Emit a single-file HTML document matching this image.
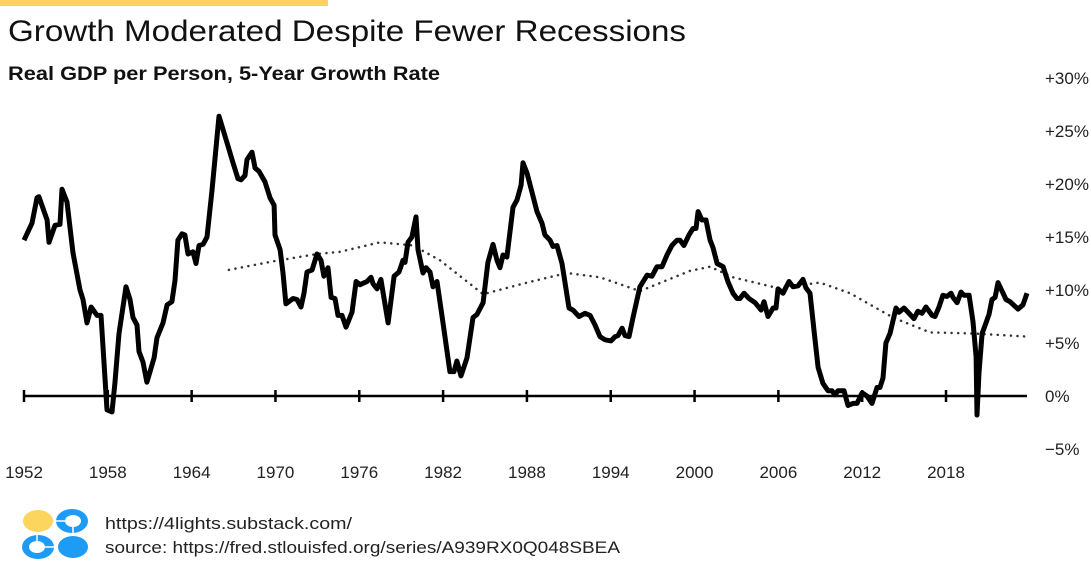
<!DOCTYPE html>
<html><head><meta charset="utf-8"><style>
html,body{margin:0;padding:0;background:#fff;}
body{width:1091px;height:574px;overflow:hidden;position:relative;font-family:"Liberation Sans",sans-serif;}
</style></head><body>
<svg id="chart" width="1091" height="574" viewBox="0 0 1091 574" xmlns="http://www.w3.org/2000/svg" style="position:absolute;left:0;top:0">
<rect x="0" y="0" width="328" height="6" fill="#fcd55f"/>
<text x="8" y="41" font-size="30" fill="#111" textLength="678" lengthAdjust="spacingAndGlyphs">Growth Moderated Despite Fewer Recessions</text>
<text x="8" y="80" font-size="19" font-weight="bold" fill="#111" textLength="432" lengthAdjust="spacingAndGlyphs">Real GDP per Person, 5-Year Growth Rate</text>
<g id="yticks"></g><g id="xaxis"></g>
<path id="trend" fill="none" stroke="#333" stroke-width="2.5" stroke-dasharray="0.1 6.5" stroke-linecap="round"/>
<path id="series" fill="none" stroke="#000" stroke-width="5" stroke-linejoin="round"/>
<g>
<ellipse cx="38" cy="521" rx="15" ry="11" fill="#fcd55f"/>
<ellipse cx="72" cy="521" rx="16" ry="12" fill="#1e9bf5"/><ellipse cx="73" cy="521" rx="8" ry="6" fill="#fff"/>
<line x1="56" y1="521" x2="66" y2="521" stroke="#fff" stroke-width="1.5"/><line x1="73" y1="527" x2="73" y2="534" stroke="#fff" stroke-width="1.5"/>
<ellipse cx="38" cy="547" rx="16" ry="12" fill="#1e9bf5"/><ellipse cx="37" cy="547" rx="8" ry="6" fill="#fff"/>
<line x1="43" y1="547" x2="54" y2="547" stroke="#fff" stroke-width="1.5"/><line x1="37" y1="534" x2="37" y2="541" stroke="#fff" stroke-width="1.5"/>
<ellipse cx="73" cy="547" rx="15" ry="11" fill="#1e9bf5"/>
</g>
<text x="105" y="529" font-size="17" fill="#222" textLength="247" lengthAdjust="spacingAndGlyphs">https://4lights.substack.com/</text>
<text x="105" y="553" font-size="17" fill="#222" textLength="515" lengthAdjust="spacingAndGlyphs">source: https://fred.stlouisfed.org/series/A939RX0Q048SBEA</text>
</svg>
<script>
const years=[1952.00,1952.57,1952.93,1953.07,1953.65,1953.79,1954.22,1954.58,1954.72,1955.08,1955.51,1956.01,1956.22,1956.51,1956.80,1957.23,1957.51,1957.94,1958.30,1958.51,1958.80,1959.30,1959.59,1959.80,1960.09,1960.23,1960.52,1960.80,1961.31,1961.52,1961.95,1962.24,1962.59,1962.81,1963.02,1963.31,1963.52,1963.74,1964.10,1964.31,1964.53,1964.81,1965.10,1965.46,1965.96,1966.53,1966.96,1967.32,1967.53,1967.82,1967.96,1968.32,1968.54,1968.82,1969.25,1969.61,1969.90,1969.97,1970.33,1970.54,1970.75,1971.26,1971.54,1971.83,1972.04,1972.26,1972.62,1972.97,1973.26,1973.47,1973.76,1973.98,1974.26,1974.48,1974.76,1975.05,1975.48,1975.77,1976.05,1976.55,1976.84,1976.98,1977.27,1977.55,1978.06,1978.49,1978.84,1979.13,1979.27,1979.49,1979.77,1980.06,1980.20,1980.56,1980.78,1981.06,1981.28,1981.56,1981.99,1982.49,1982.78,1982.99,1983.28,1983.71,1984.14,1984.43,1984.86,1985.21,1985.57,1985.86,1986.07,1986.29,1986.57,1987.00,1987.29,1987.58,1987.72,1988.01,1988.72,1989.08,1989.29,1989.65,1989.87,1990.15,1990.51,1991.01,1991.30,1991.73,1992.16,1992.52,1992.87,1993.23,1993.59,1994.02,1994.31,1994.52,1994.81,1995.02,1995.31,1995.59,1996.09,1996.60,1996.95,1997.31,1997.67,1998.03,1998.38,1998.74,1998.96,1999.24,1999.60,1999.89,2000.10,2000.25,2000.53,2000.82,2001.11,2001.32,2001.61,2002.04,2002.39,2002.75,2003.04,2003.25,2003.54,2003.90,2004.33,2004.76,2004.97,2005.26,2005.62,2005.83,2005.97,2006.33,2006.76,2007.05,2007.41,2007.76,2007.98,2008.26,2008.55,2008.84,2009.19,2009.55,2009.84,2010.05,2010.27,2010.70,2010.98,2011.34,2011.63,2011.99,2012.34,2012.70,2013.06,2013.27,2013.49,2013.70,2013.99,2014.42,2014.63,2014.99,2015.71,2015.99,2016.28,2016.57,2017.00,2017.21,2017.50,2017.78,2018.07,2018.36,2018.50,2018.79,2019.07,2019.29,2019.65,2019.93,2020.15,2020.22,2020.36,2020.58,2020.86,2021.08,2021.29,2021.51,2021.72,2022.29,2022.58,2023.15,2023.51,2023.80];
const growth=[14.7,16.3,18.7,18.8,16.6,14.5,16.1,16.2,19.5,18.3,13.5,10.0,9.1,6.9,8.4,7.6,7.6,-1.3,-1.5,1.2,5.9,10.3,9.1,7.4,6.7,4.2,3.2,1.3,3.6,5.5,6.9,8.6,8.9,10.9,14.7,15.3,15.2,13.4,13.6,12.5,14.2,14.3,15.0,19.4,26.4,23.9,22.0,20.5,20.4,20.8,22.3,23.0,21.5,21.2,20.2,18.7,18.0,15.2,13.8,11.6,8.7,9.2,9.1,8.4,9.7,11.7,11.9,13.4,12.8,11.3,12.1,9.3,9.2,7.6,7.6,6.5,7.9,10.8,10.5,10.8,11.2,10.6,10.1,11.0,6.9,11.3,11.7,12.8,12.6,14.5,15.0,16.9,13.8,11.6,12.1,11.7,10.3,10.8,6.9,2.3,2.3,3.3,1.9,3.6,7.4,7.7,8.8,12.6,14.3,12.8,12.1,13.3,13.1,17.8,18.5,19.9,22.0,21.0,17.4,16.3,15.2,14.7,14.1,14.2,12.5,8.3,8.1,7.5,7.8,7.6,6.7,5.6,5.3,5.2,5.6,5.7,6.4,5.7,5.6,7.4,10.3,11.4,11.3,12.2,12.2,13.3,14.2,14.7,14.7,14.2,15.2,15.8,15.8,17.4,16.6,16.6,14.7,14.0,12.5,12.2,10.8,9.7,9.2,9.2,9.7,9.2,8.8,8.1,8.9,7.5,8.3,8.3,10.1,9.7,10.8,10.3,10.4,11.0,10.2,9.7,6.2,2.7,1.2,0.5,0.5,0.1,0.5,0.5,-0.9,-0.7,-0.7,0.3,0.0,-0.7,0.8,0.8,1.7,5.0,5.9,8.3,7.9,8.3,7.3,8.0,7.8,8.4,7.6,7.5,8.4,9.5,9.4,9.7,9.3,8.8,9.8,9.5,9.5,7.0,3.7,-1.8,2.2,5.9,6.9,7.7,9.1,9.3,10.7,9.1,8.9,8.2,8.6,9.7];
const trendYears=[1966.67,1969.82,1972.97,1974.62,1977.48,1979.85,1981.78,1984.86,1988.01,1990.87,1993.23,1996.09,1999.67,2001.11,2002.75,2005.90,2008.98,2011.13,2014.21,2016.85,2019.93,2023.80];
const trendValues=[11.9,12.7,13.4,13.6,14.5,14.2,12.8,9.6,10.7,11.6,11.2,9.9,11.8,12.2,11.2,10.2,10.7,9.7,7.4,6.0,5.9,5.6];
const xTicks=[1952,1958,1964,1970,1976,1982,1988,1994,2000,2006,2012,2018];
const yTicks=[30,25,20,15,10,5,0,-5];
const yTickLabels=["+30%","+25%","+20%","+15%","+10%","+5%","0%","\u22125%"];

const X=y=>24+(y-1952)*13.97;
const Y=v=>396-v*10.6;
const NS="http://www.w3.org/2000/svg";
function line(xs,vs){return xs.map((x,i)=>(i?"L":"M")+X(x).toFixed(1)+" "+Y(vs[i]).toFixed(1)).join("");}
document.getElementById("series").setAttribute("d",line(years,growth));
document.getElementById("trend").setAttribute("d",line(trendYears,trendValues));

const xa=document.getElementById("xaxis");
const base=document.createElementNS(NS,"line");


base.setAttribute("x1",X(1952));base.setAttribute("x2",1027);base.setAttribute("y1",Y(0));base.setAttribute("y2",Y(0));
base.setAttribute("stroke","#000");base.setAttribute("stroke-width","2.5");xa.appendChild(base);
xTicks.forEach(t=>{
 const tk=document.createElementNS(NS,"line");
 
 
 tk.setAttribute("x1",X(t));tk.setAttribute("x2",X(t));tk.setAttribute("y1",Y(0)-6);tk.setAttribute("y2",Y(0)+6);
 tk.setAttribute("stroke","#000");tk.setAttribute("stroke-width","2.5");xa.appendChild(tk);
 const tx=document.createElementNS(NS,"text");
 
 
 tx.setAttribute("x",X(t));tx.setAttribute("y",478);tx.setAttribute("font-size","17");
 tx.setAttribute("text-anchor","middle");tx.setAttribute("fill","#222");tx.textContent=t;xa.appendChild(tx);
});
const ya=document.getElementById("yticks");
yTicks.forEach((t,i)=>{
 const tx=document.createElementNS(NS,"text");
 
 
 tx.setAttribute("x",1045);tx.setAttribute("y",Y(t)+6);tx.setAttribute("font-size","17");
 tx.setAttribute("fill","#222");tx.textContent=yTickLabels[i];ya.appendChild(tx);
});
</script>
</body></html>
